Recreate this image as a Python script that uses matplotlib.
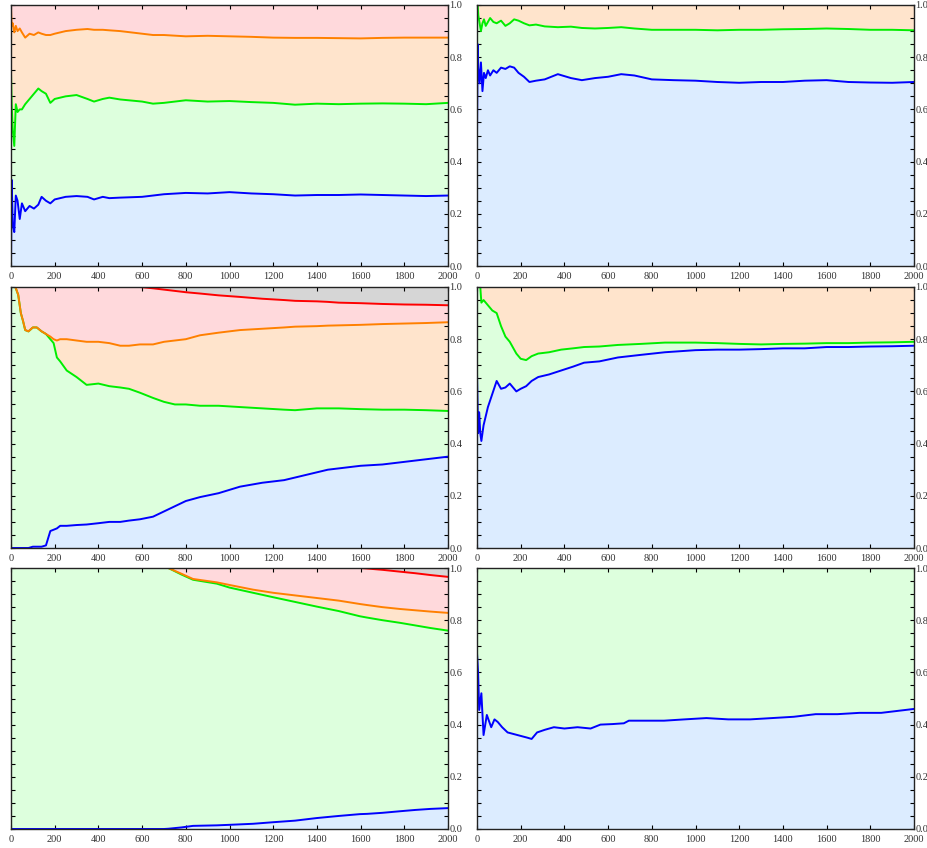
import numpy as np
import matplotlib
matplotlib.use("Agg")
import matplotlib.pyplot as plt
from matplotlib.ticker import MultipleLocator

plt.rcParams['font.family'] = ['Liberation Serif', 'DejaVu Serif']

# colours of the layers (line, fill) from bottom to top
line_cols = ["#0000ff", "#00ee00", "#ff8000", "#ff0000"]
fill_cols = ["#dcecff", "#ddffdd", "#ffe4cc", "#ffd9dc", "#d6d6d6"]

# ---- panel A (top left)
xA = [0, 3, 8, 15, 22, 30, 40, 50, 65, 85, 105, 125, 140, 160, 180, 200, 250, 300, 350, 380,
      420, 450, 500, 600, 650, 700, 800, 900, 1000, 1100, 1200, 1300, 1400, 1500, 1600, 1700,
      1800, 1900, 2000]
blueA = [0.0, 0.33, 0.16, 0.13, 0.27, 0.25, 0.18, 0.24, 0.21, 0.23, 0.22, 0.235, 0.265, 0.25,
         0.24, 0.255, 0.265, 0.268, 0.265, 0.255, 0.265, 0.26, 0.262, 0.265, 0.27, 0.275, 0.28,
         0.278, 0.283, 0.278, 0.275, 0.27, 0.272, 0.272, 0.274, 0.272, 0.27, 0.268, 0.27]
greenA = [0.74, 0.62, 0.52, 0.46, 0.62, 0.59, 0.6, 0.6, 0.62, 0.64, 0.66, 0.68, 0.67, 0.66,
          0.625, 0.64, 0.65, 0.655, 0.64, 0.63, 0.64, 0.645, 0.638, 0.63, 0.622, 0.625, 0.635,
          0.63, 0.632, 0.628, 0.625, 0.618, 0.622, 0.62, 0.622, 0.623, 0.622, 0.62, 0.625]
orangeA = [0.99, 0.92, 0.93, 0.895, 0.92, 0.9, 0.91, 0.895, 0.875, 0.89, 0.885, 0.895, 0.89,
           0.885, 0.885, 0.89, 0.9, 0.905, 0.908, 0.905, 0.905, 0.903, 0.9, 0.89, 0.885, 0.885,
           0.88, 0.882, 0.88, 0.878, 0.875, 0.874, 0.874, 0.873, 0.872, 0.874, 0.875, 0.875, 0.875]

# ---- panel B (top right)
xB = [0, 3, 6, 12, 18, 25, 32, 40, 50, 60, 75, 90, 110, 130, 150, 170, 190, 215, 240, 270,
      310, 370, 430, 480, 540, 600, 660, 720, 800, 900, 1000, 1100, 1200, 1300, 1400, 1500,
      1600, 1700, 1800, 1900, 2000]
blueB = [0.5, 0.85, 0.76, 0.7, 0.78, 0.67, 0.74, 0.72, 0.75, 0.73, 0.75, 0.74, 0.76, 0.755,
         0.765, 0.76, 0.74, 0.725, 0.705, 0.71, 0.715, 0.735, 0.72, 0.712, 0.72, 0.725, 0.735,
         0.73, 0.715, 0.712, 0.71, 0.705, 0.702, 0.705, 0.705, 0.71, 0.712, 0.705, 0.703, 0.702,
         0.705]
greenB = [1.0, 1.0, 0.96, 0.93, 0.9, 0.93, 0.945, 0.92, 0.935, 0.95, 0.935, 0.93, 0.94, 0.92,
          0.93, 0.945, 0.94, 0.93, 0.922, 0.925, 0.918, 0.915, 0.917, 0.912, 0.91, 0.912, 0.915,
          0.91, 0.905, 0.905, 0.905, 0.903, 0.905, 0.905, 0.907, 0.908, 0.91, 0.908, 0.905,
          0.905, 0.903]

# ---- panel C (middle left)
xC = [0, 20, 33, 45, 55, 65, 80, 100, 118, 140, 160, 180, 195, 210, 225, 255, 300, 346, 400,
      450, 500, 540, 590, 650, 700, 750, 800, 865, 950, 1048, 1150, 1250, 1300, 1400, 1450,
      1500, 1600, 1700, 1800, 1900, 2000]
blueC = [0, 0, 0, 0, 0, 0, 0, 0.005, 0.005, 0.005, 0.01, 0.065, 0.07, 0.075, 0.085, 0.085,
         0.088, 0.09, 0.095, 0.1, 0.1, 0.105, 0.11, 0.12, 0.14, 0.16, 0.18, 0.195, 0.21, 0.235,
         0.25, 0.26, 0.27, 0.29, 0.3, 0.305, 0.315, 0.32, 0.33, 0.34, 0.35]
greenC = [1.0, 1.0, 0.97, 0.9, 0.87, 0.835, 0.83, 0.845, 0.845, 0.83, 0.82, 0.8, 0.785, 0.73,
          0.715, 0.68, 0.655, 0.625, 0.63, 0.62, 0.615, 0.61, 0.595, 0.575, 0.56, 0.55, 0.55,
          0.545, 0.545, 0.54, 0.535, 0.53, 0.528, 0.535, 0.535, 0.535, 0.532, 0.53, 0.53,
          0.528, 0.525]
orangeC = [1.0, 1.0, 0.97, 0.9, 0.87, 0.835, 0.83, 0.845, 0.845, 0.83, 0.82, 0.81, 0.8, 0.795,
           0.8, 0.8, 0.795, 0.79, 0.79, 0.785, 0.775, 0.775, 0.78, 0.78, 0.79, 0.795, 0.8,
           0.815, 0.825, 0.835, 0.84, 0.845, 0.848, 0.85, 0.852, 0.853, 0.855, 0.858, 0.86,
           0.862, 0.865]
redC = [1.0, 1.0, 1.0, 1.0, 1.0, 1.0, 1.0, 1.0, 1.0, 1.0, 1.0, 1.0, 1.0, 1.0, 1.0, 1.0, 1.0,
        1.0, 1.0, 1.0, 1.0, 1.0, 1.0, 0.995, 0.99, 0.985, 0.98, 0.975, 0.968, 0.962, 0.955,
        0.95, 0.947, 0.945, 0.943, 0.94, 0.938, 0.935, 0.933, 0.932, 0.93]

# ---- panel D (middle right)
xD = [0, 5, 10, 15, 20, 30, 50, 70, 90, 110, 130, 150, 180, 200, 225, 250, 280, 330, 385, 440,
      490, 560, 645, 750, 860, 1000, 1100, 1200, 1300, 1400, 1500, 1600, 1700, 1800, 1900, 2000]
blueD = [0.67, 0.44, 0.52, 0.44, 0.41, 0.47, 0.54, 0.59, 0.64, 0.61, 0.615, 0.63, 0.6, 0.61,
         0.62, 0.64, 0.655, 0.665, 0.68, 0.695, 0.71, 0.715, 0.73, 0.74, 0.75, 0.758, 0.76,
         0.76, 0.762, 0.765, 0.765, 0.77, 0.77, 0.772, 0.773, 0.775]
greenD = [1.0, 1.0, 1.0, 1.0, 0.94, 0.95, 0.93, 0.91, 0.9, 0.85, 0.81, 0.79, 0.745, 0.725,
          0.72, 0.735, 0.745, 0.75, 0.76, 0.765, 0.77, 0.772, 0.778, 0.782, 0.787, 0.787,
          0.785, 0.782, 0.78, 0.782, 0.783, 0.785, 0.785, 0.787, 0.788, 0.79]

# ---- panel E (bottom left)
xE = [0, 200, 400, 600, 700, 720, 780, 833, 942, 1000, 1108, 1200, 1300, 1400, 1500, 1597,
      1630, 1700, 1780, 1850, 1920, 2000]
blueE = [0, 0, 0, 0, 0, 0.001, 0.006, 0.012, 0.014, 0.016, 0.02, 0.026, 0.032, 0.042, 0.05,
         0.057, 0.058, 0.062, 0.068, 0.073, 0.077, 0.08]
greenE = [1.0, 1.0, 1.0, 1.0, 1.0, 1.0, 0.975, 0.955, 0.94, 0.925, 0.905, 0.888, 0.87, 0.852,
          0.835, 0.815, 0.81, 0.8, 0.79, 0.78, 0.77, 0.76]
orangeE = [1.0, 1.0, 1.0, 1.0, 1.0, 1.0, 0.978, 0.958, 0.945, 0.935, 0.917, 0.905, 0.895,
           0.885, 0.875, 0.862, 0.858, 0.85, 0.843, 0.838, 0.833, 0.828]
redE = [1.0, 1.0, 1.0, 1.0, 1.0, 1.0, 1.0, 1.0, 1.0, 1.0, 1.0, 1.0, 1.0, 1.0, 1.0, 1.0, 0.998,
        0.993, 0.986, 0.98, 0.973, 0.966]

# ---- panel F (bottom right)
xF = [0, 5, 10, 20, 30, 45, 65, 80, 95, 115, 140, 185, 230, 250, 275, 310, 352, 400, 460, 520,
      565, 620, 672, 695, 795, 856, 950, 1050, 1150, 1250, 1350, 1450, 1550, 1650, 1750, 1850,
      1950, 2000]
blueF = [0.674, 0.6, 0.456, 0.52, 0.36, 0.437, 0.39, 0.42, 0.41, 0.39, 0.37, 0.36, 0.35,
         0.345, 0.37, 0.38, 0.39, 0.385, 0.39, 0.385, 0.4, 0.402, 0.405, 0.415, 0.415, 0.415,
         0.42, 0.425, 0.42, 0.42, 0.425, 0.43, 0.44, 0.44, 0.445, 0.445, 0.455, 0.46]

panels = [
    (xA, [blueA, greenA, orangeA]),
    (xB, [blueB, greenB]),
    (xC, [blueC, greenC, orangeC, redC]),
    (xD, [blueD, greenD]),
    (xE, [blueE, greenE, orangeE, redE]),
    (xF, [blueF]),
]

fig = plt.figure(figsize=(9.27, 8.48), dpi=100)
W, H = 927, 848
lefts = [11, 477]
tops = [5, 287, 568]
aw, ah = 437, 261

for k, (x, layers) in enumerate(panels):
    r, c = divmod(k, 2)
    ax = fig.add_axes([lefts[c] / W, 1 - (tops[r] + ah) / H, aw / W, ah / H])
    x = np.asarray(x)
    lower = np.zeros(len(x))
    for i, y in enumerate(layers):
        y = np.asarray(y)
        ax.fill_between(x, lower, y, color=fill_cols[i], lw=0)
        lower = y
    ax.fill_between(x, lower, np.ones(len(x)), color=fill_cols[len(layers)], lw=0)
    for i, y in enumerate(layers):
        ax.plot(x, y, color=line_cols[i], lw=1.4)

    ax.set_xlim(0, 2000)
    ax.set_ylim(0, 1)
    ax.xaxis.set_major_locator(MultipleLocator(200))
    ax.yaxis.set_major_locator(MultipleLocator(0.2))
    ax.yaxis.set_minor_locator(MultipleLocator(0.05))
    ax.yaxis.set_major_formatter(matplotlib.ticker.FormatStrFormatter('%.1f'))
    ax.tick_params(axis='both', which='both', direction='in', top=True, bottom=True,
                   left=True, right=True, length=3, width=0.8, labelsize=7.5,
                   labelcolor='#333333')
    ax.tick_params(axis='y', labelleft=False, labelright=True, pad=1)
    ax.tick_params(axis='x', pad=4)
    for sp in ax.spines.values():
        sp.set_linewidth(1.0)
        sp.set_color('#222222')

fig.savefig("out.png", dpi=100)
